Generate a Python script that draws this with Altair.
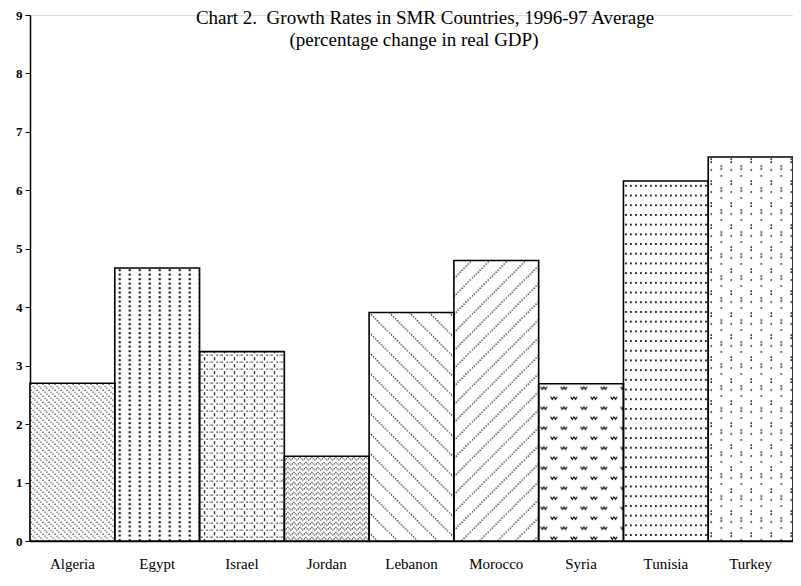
import urllib.parse
import altair as alt
import pandas as pd

countries = ["Algeria", "Egypt", "Israel", "Jordan", "Lebanon", "Morocco", "Syria", "Tunisia", "Turkey"]
growth = [2.7, 4.67, 3.24, 1.45, 3.91, 4.8, 2.69, 6.16, 6.57]
y_ticks = [0, 1, 2, 3, 4, 5, 6, 7, 8, 9]
title_lines = ["Chart 2.\u00a0 Growth Rates in SMR Countries, 1996-97 Average",
               "(percentage change in real GDP)"]


def svg_url(w, h, body):
    svg = (
        '<svg xmlns="http://www.w3.org/2000/svg" width="100%" height="100%">'
        f'<defs><pattern id="p" patternUnits="userSpaceOnUse" width="{w}" height="{h}">{body}</pattern></defs>'
        '<rect width="100%" height="100%" fill="white"/>'
        '<rect width="100%" height="100%" fill="url(#p)"/></svg>'
    )
    return "data:image/svg+xml;charset=utf-8," + urllib.parse.quote(svg)


def dots(pts, r):
    return "".join(f'<circle cx="{x}" cy="{y}" r="{r}" fill="black"/>' for x, y in pts)


wave = 'l1.6,2.6 l1.6,-2.6 l1.6,2.6 l1.6,-2.6'
patterns = {
    "Algeria": svg_url(6, 6, dots([(1, 1), (3, 3), (5, 5)], 0.65)),
    "Egypt": svg_url(10, 4.5, dots([(5, 2)], 1.1)),
    "Israel": svg_url(10, 7, dots([(5, 0.8), (2.5, 3.5), (7.5, 3.5), (5, 6.2), (0, 3.5)], 0.75)),
    "Jordan": svg_url(6, 5, dots([(0.5, 4), (2, 2.5), (3.5, 1), (5, 2.5)], 0.65)),
    "Lebanon": svg_url(20, 20, '<line x1="0" y1="0" x2="20" y2="20" stroke="black" stroke-width="1.3" stroke-dasharray="1.2,1.6"/>'),
    "Morocco": svg_url(18, 18, '<line x1="0" y1="18" x2="18" y2="0" stroke="black" stroke-width="1.3" stroke-dasharray="1.2,1.6"/>'),
    "Syria": svg_url(20, 20,
                     f'<path d="M2,3 {wave}" fill="none" stroke="black" stroke-width="1"/>'
                     f'<path d="M12,13 {wave}" fill="none" stroke="black" stroke-width="1"/>'),
    "Tunisia": svg_url(5, 9.7, dots([(2.5, 4.8)], 1.0)),
    "Turkey": svg_url(20, 22, dots([(3, 2), (3, 5), (3, 13), (13, 9), (13, 12), (13, 19)], 0.9)),
}

df = pd.DataFrame({"country": countries, "value": growth})
df["url"] = df["country"].map(patterns)

x_enc = alt.X("country:N", sort=countries,
              scale=alt.Scale(paddingInner=0, paddingOuter=0),
              axis=alt.Axis(title=None, labelAngle=0, ticks=False, domainColor="black",
                            domainWidth=1.5, labelColor="black", labelFont="Liberation Serif",
                            labelFontSize=15, labelPadding=15))
y_enc = alt.Y("value:Q", scale=alt.Scale(domain=[0, 9], nice=False),
              axis=alt.Axis(title=None, values=y_ticks, grid=False, tickSize=5,
                            tickColor="black", domainColor="black", domainWidth=1.5,
                            labelColor="black", labelFont="Liberation Serif",
                            labelFontSize=13, labelFontWeight="bold", labelPadding=3))

fills = alt.Chart(df).mark_image(aspect=False).encode(
    x=x_enc, y=y_enc, y2=alt.datum(0), url="url:N")

outline = alt.Chart(df).mark_bar(fill="transparent", stroke="black", strokeWidth=1.6).encode(
    x=x_enc, y=y_enc)

t_df = pd.DataFrame({"line": [0, 1], "text": title_lines})
t1 = alt.Chart(t_df).transform_filter("datum.line == 0").mark_text(
    font="Liberation Serif", fontSize=19, color="black", align="center", baseline="middle").encode(
    text="text:N", x=alt.value(395), y=alt.value(3))
t2 = alt.Chart(t_df).transform_filter("datum.line == 1").mark_text(
    font="Liberation Serif", fontSize=19, color="black", align="center", baseline="middle").encode(
    text="text:N", x=alt.value(384), y=alt.value(25))

chart = alt.layer(fills, outline, t1, t2).properties(
    width=763, height=526,
    autosize=alt.AutoSizeParams(type="none"),
    padding={"left": 22, "top": 7, "right": 0, "bottom": 37},
).configure_view(stroke=None).configure(background="white")

chart.save("out.html", embed_options={"renderer": "svg", "actions": False})
